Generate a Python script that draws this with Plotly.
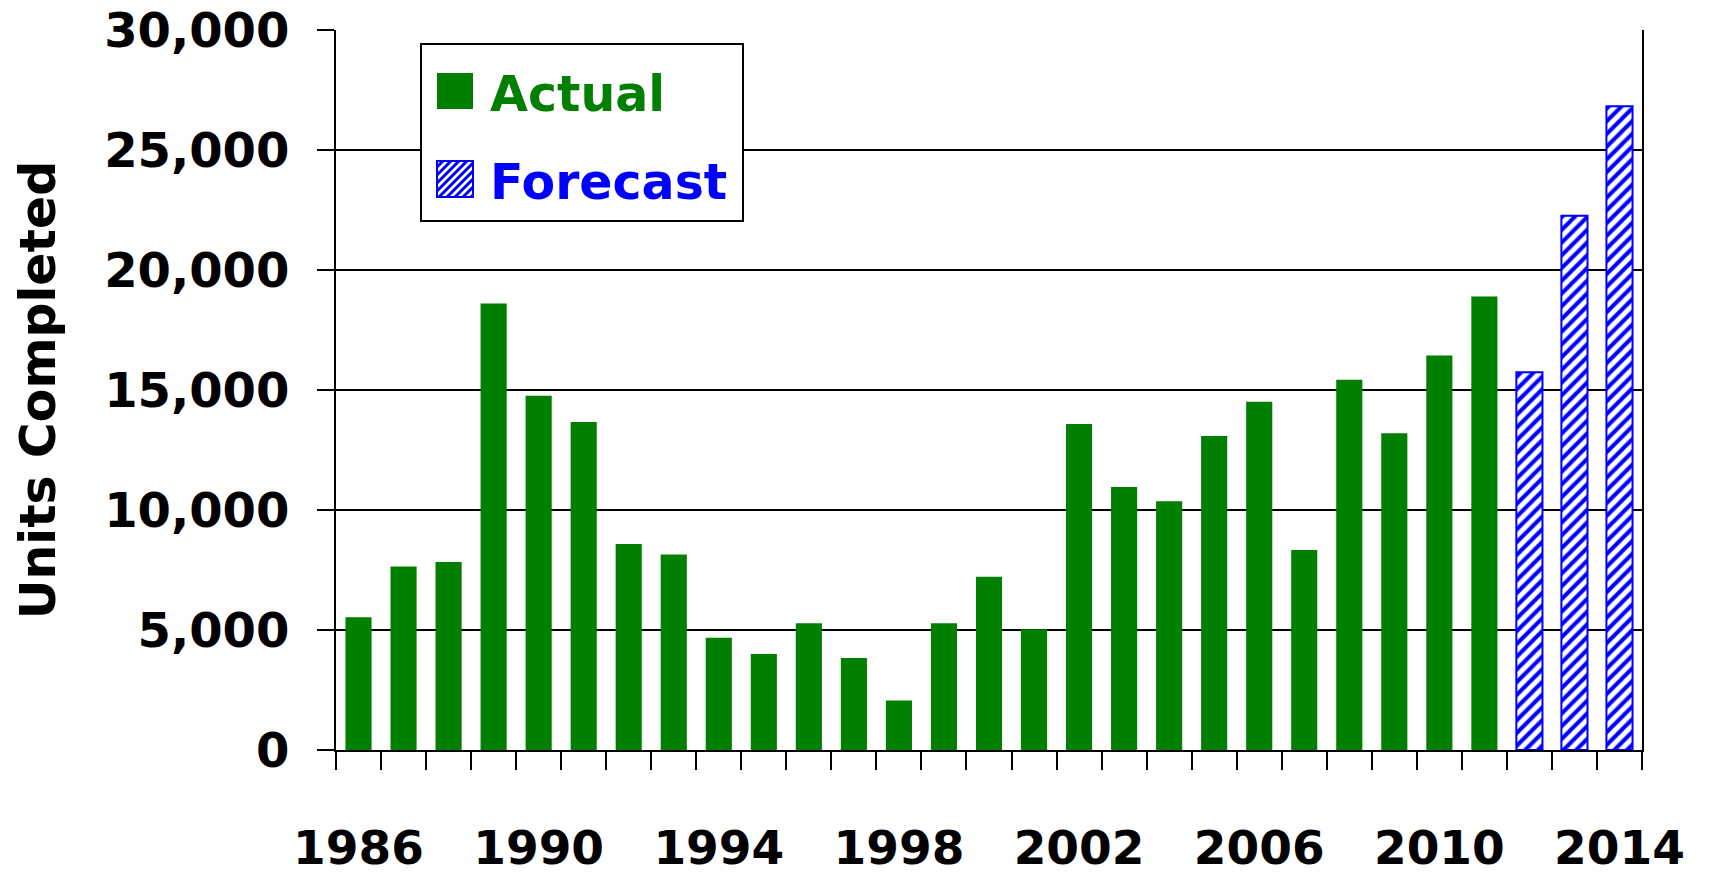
import plotly.graph_objects as go

# Housing completions by year
actual_years = list(range(1986, 2012))
actual_units = [5530, 7650, 7830, 18600, 14760, 13670, 8580, 8150, 4680, 4000,
                5280, 3830, 2060, 5280, 7220, 5030, 13580, 10960, 10360, 13080,
                14510, 8330, 15430, 13200, 16440, 18900]
forecast_years = [2012, 2013, 2014]
forecast_units = [15740, 22260, 26820]
label_years = [1986, 1990, 1994, 1998, 2002, 2006, 2010, 2014]
y_ticks = [0, 5000, 10000, 15000, 20000, 25000, 30000]

GREEN = "#007F00"
BLUE = "#0000FF"
FONT = "DejaVu Sans"

W, H = 1710, 874
L, R, T, B = 336, 68, 30, 124
PW, PH = W - L - R, H - T - B


def px(x):
    return (x - L) / PW


def py(y):
    return (H - B - y) / PH


fig = go.Figure()
fig.add_trace(go.Bar(
    x=actual_years, y=actual_units, name="Actual", width=0.58,
    marker=dict(color=GREEN, line=dict(width=0)), showlegend=False,
))
fig.add_trace(go.Bar(
    x=forecast_years, y=forecast_units, name="Forecast", width=0.58,
    marker=dict(color="white", line=dict(color=BLUE, width=2),
                pattern=dict(shape="/", fgcolor=BLUE, bgcolor="white",
                             size=9, solidity=0.45, fillmode="replace")),
    showlegend=False,
))

# Legend box drawn with shapes and text
shapes = [dict(type="rect", xref="paper", yref="paper",
               x0=px(421), x1=px(743), y0=py(221), y1=py(44),
               line=dict(color="black", width=2), fillcolor="white", layer="above"),
          dict(type="rect", xref="paper", yref="paper",
               x0=px(437), x1=px(473), y0=py(109), y1=py(73),
               line=dict(width=0), fillcolor=GREEN, layer="above"),
          dict(type="rect", xref="paper", yref="paper",
               x0=px(437), x1=px(473), y0=py(197), y1=py(161),
               line=dict(color=BLUE, width=2), fillcolor="white", layer="above")]

# diagonal hatch inside the forecast swatch
sx0, sy0, s = 437, 197, 36  # left, bottom (pixel), size
for c in range(-30, 36, 8):
    x_a = max(0, c)
    x_b = min(s, s + c)
    if x_b - x_a < 2:
        continue
    ya, yb = x_a - c, x_b - c
    shapes.append(dict(type="line", xref="paper", yref="paper",
                       x0=px(sx0 + x_a), y0=py(sy0 - ya),
                       x1=px(sx0 + x_b), y1=py(sy0 - yb),
                       line=dict(color=BLUE, width=3), layer="above"))

annotations = [
    dict(text="Actual", xref="paper", yref="paper", x=px(488), y=py(94),
         xanchor="left", yanchor="middle", showarrow=False,
         font=dict(family=FONT, size=49, color=GREEN, weight="bold")),
    dict(text="Forecast", xref="paper", yref="paper", x=px(488), y=py(182),
         xanchor="left", yanchor="middle", showarrow=False,
         font=dict(family=FONT, size=49, color=BLUE, weight="bold")),
]

fig.update_layout(
    width=W, height=H,
    margin=dict(l=L, r=R, t=T, b=B, pad=0, autoexpand=False),
    paper_bgcolor="white", plot_bgcolor="white",
    barmode="overlay",
    shapes=shapes, annotations=annotations,
    font=dict(family=FONT, color="black"),
)

fig.update_xaxes(
    range=[1985.5, 2014.5], automargin=False,
    tickmode="array", tickvals=label_years, ticktext=[str(v) for v in label_years],
    ticks="", showgrid=False, zeroline=False,
    showline=True, linecolor="black", linewidth=2,
    tickfont=dict(family=FONT, size=47, weight="bold", color="black"),
    ticklabelstandoff=56,
    minor=dict(tick0=1985.5, dtick=1, ticks="outside", ticklen=18,
               tickcolor="black", tickwidth=2, showgrid=False),
)

fig.update_yaxes(
    range=[0, 30000], automargin=False, tickmode="array", tickvals=y_ticks, tickformat=",",
    showgrid=True, gridcolor="black", gridwidth=2, zeroline=False,
    showline=True, linecolor="black", linewidth=2, mirror=True,
    ticks="outside", ticklen=17, tickcolor="black", tickwidth=2,
    tickfont=dict(family=FONT, size=48, weight="bold", color="black"),
    ticklabelstandoff=18,
    title=dict(text="Units Completed", standoff=33,
               font=dict(family=FONT, size=49, weight="bold", color="black")),
)

fig.write_html("out.html")
